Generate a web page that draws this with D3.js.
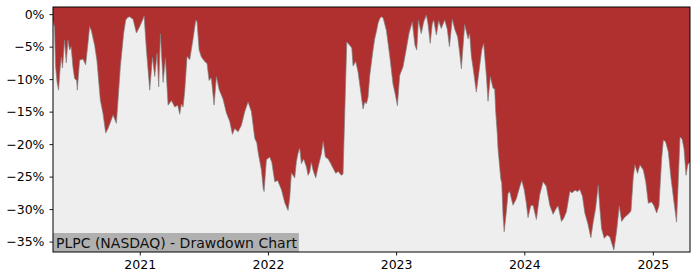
<!DOCTYPE html>
<html>
<head>
<meta charset="utf-8">
<script src="https://cdn.jsdelivr.net/npm/d3@7"></script>
<style>
  body { margin: 0; background: #fff; }
  svg { display: block; font-family: "DejaVu Sans", sans-serif; }
</style>
</head>
<body>
<div id="chart"></div>
<script>
// drawdown of PLPC, % below running peak, sampled off the chart (decimal years)
const years = [
  2020.325, 2020.337, 2020.345, 2020.357, 2020.368, 2020.380, 2020.389, 2020.399, 2020.415, 2020.428,
  2020.441, 2020.454, 2020.466, 2020.480, 2020.493, 2020.509, 2020.514, 2020.532, 2020.558, 2020.579,
  2020.597, 2020.610, 2020.623, 2020.649, 2020.667, 2020.680, 2020.693, 2020.714, 2020.735, 2020.753,
  2020.774, 2020.792, 2020.818, 2020.831, 2020.849, 2020.875, 2020.891, 2020.906, 2020.922, 2020.948,
  2020.974, 2021.000, 2021.026, 2021.034, 2021.052, 2021.078, 2021.099, 2021.117, 2021.135, 2021.148,
  2021.161, 2021.182, 2021.200, 2021.221, 2021.247, 2021.273, 2021.296, 2021.312, 2021.325, 2021.338,
  2021.351, 2021.369, 2021.390, 2021.416, 2021.437, 2021.447, 2021.463, 2021.481, 2021.507, 2021.525,
  2021.541, 2021.558, 2021.580, 2021.598, 2021.619, 2021.650, 2021.676, 2021.702, 2021.723, 2021.741,
  2021.767, 2021.793, 2021.819, 2021.845, 2021.871, 2021.897, 2021.913, 2021.923, 2021.949, 2021.963,
  2021.970, 2021.988, 2022.014, 2022.030, 2022.053, 2022.076, 2022.105, 2022.131, 2022.157, 2022.170,
  2022.183, 2022.209, 2022.222, 2022.235, 2022.248, 2022.261, 2022.279, 2022.300, 2022.313, 2022.326,
  2022.338, 2022.352, 2022.373, 2022.392, 2022.417, 2022.431, 2022.448, 2022.470, 2022.490, 2022.508,
  2022.529, 2022.548, 2022.573, 2022.586, 2022.599, 2022.615, 2022.638, 2022.654, 2022.664, 2022.685,
  2022.703, 2022.721, 2022.742, 2022.755, 2022.768, 2022.781, 2022.794, 2022.820, 2022.833, 2022.846,
  2022.859, 2022.872, 2022.885, 2022.899, 2022.924, 2022.950, 2022.976, 2022.993, 2023.010, 2023.028,
  2023.054, 2023.080, 2023.101, 2023.126, 2023.147, 2023.161, 2023.174, 2023.196, 2023.215, 2023.236,
  2023.249, 2023.266, 2023.282, 2023.293, 2023.314, 2023.332, 2023.352, 2023.379, 2023.399, 2023.416,
  2023.438, 2023.457, 2023.480, 2023.496, 2023.509, 2023.535, 2023.561, 2023.574, 2023.587, 2023.600,
  2023.626, 2023.652, 2023.668, 2023.683, 2023.704, 2023.717, 2023.735, 2023.756, 2023.769, 2023.777,
  2023.789, 2023.795, 2023.816, 2023.824, 2023.834, 2023.843, 2023.860, 2023.873, 2023.886, 2023.898,
  2023.912, 2023.938, 2023.964, 2023.980, 2023.999, 2024.015, 2024.029, 2024.050, 2024.068, 2024.094,
  2024.120, 2024.146, 2024.171, 2024.198, 2024.224, 2024.245, 2024.263, 2024.289, 2024.307, 2024.328,
  2024.354, 2024.374, 2024.393, 2024.416, 2024.432, 2024.452, 2024.471, 2024.494, 2024.518, 2024.536,
  2024.555, 2024.575, 2024.588, 2024.601, 2024.622, 2024.645, 2024.666, 2024.684, 2024.697, 2024.718,
  2024.739, 2024.757, 2024.783, 2024.809, 2024.830, 2024.848, 2024.861, 2024.881, 2024.900, 2024.926,
  2024.945, 2024.965, 2024.991, 2025.009, 2025.030, 2025.048, 2025.069, 2025.082, 2025.099, 2025.121,
  2025.142, 2025.165, 2025.185, 2025.196, 2025.212, 2025.228, 2025.243, 2025.259, 2025.272, 2025.290
]
const drawdown = [
  -1.0, -2.0, -8.0, -10.5, -11.7, -8.5, -6.6, -8.3, -4.0, -7.5,
  -4.0, -5.5, -5.0, -8.1, -9.9, -10.2, -11.7, -7.1, -6.9, -7.8,
  -4.5, -1.9, -2.5, -4.8, -7.2, -10.2, -13.2, -15.3, -18.3, -17.6,
  -16.5, -15.5, -16.8, -13.2, -8.1, -2.9, -0.9, -0.5, -0.4, -0.8,
  -2.9, -1.9, -0.7, -0.3, -5.5, -11.7, -6.6, -9.6, -6.0, -11.2,
  -3.0, -10.5, -6.8, -14.0, -13.3, -14.3, -14.0, -15.4, -13.8, -14.3,
  -11.8, -6.5, -7.0, -3.8, -0.9, -1.2, -5.5, -6.6, -7.3, -7.6,
  -10.2, -9.8, -14.0, -9.6, -11.6, -13.1, -15.2, -16.5, -18.5, -17.6,
  -18.1, -17.1, -15.0, -13.5, -15.0, -19.1, -19.8, -21.2, -24.0, -26.8,
  -27.3, -22.4, -22.0, -22.8, -25.8, -25.6, -27.0, -29.0, -30.2, -28.3,
  -24.4, -25.2, -22.7, -21.4, -20.6, -23.0, -22.3, -23.5, -24.8, -24.3,
  -22.8, -24.0, -25.2, -23.5, -21.5, -19.6, -22.0, -22.3, -23.0, -23.7,
  -24.5, -24.2, -24.8, -24.6, -15.5, -4.3, -4.8, -5.2, -8.0, -7.3,
  -8.9, -11.5, -14.6, -13.5, -13.8, -12.8, -9.5, -5.5, -3.8, -2.7,
  -1.4, -0.7, -0.4, -0.6, -2.5, -6.4, -10.8, -12.3, -14.1, -9.4,
  -8.1, -5.3, -2.9, -1.2, -4.8, -5.5, -0.9, -3.0, -1.2, -0.15,
  -1.5, -4.5, -1.5, -0.9, -3.2, -1.0, -2.2, -0.9, -2.3, -5.0,
  -0.8, -2.3, -3.5, -6.0, -8.4, -1.6, -3.8, -3.0, -6.5, -8.2,
  -12.0, -8.0, -5.5, -4.5, -9.4, -13.4, -9.6, -11.4, -11.5, -15.0,
  -18.4, -20.7, -25.3, -26.0, -31.0, -33.5, -30.4, -27.6, -27.3, -28.3,
  -29.4, -28.4, -26.6, -25.6, -27.0, -29.0, -31.3, -29.5, -29.4, -31.6,
  -27.8, -25.8, -26.5, -29.4, -30.8, -30.0, -29.5, -31.9, -31.4, -30.4,
  -27.3, -27.5, -27.1, -27.3, -27.0, -28.0, -30.6, -32.2, -34.4, -32.0,
  -29.9, -26.3, -29.9, -33.0, -34.5, -34.0, -34.3, -35.5, -36.3, -33.4,
  -29.5, -31.9, -31.2, -30.8, -30.3, -25.0, -23.2, -24.5, -23.2, -24.0,
  -25.8, -29.1, -28.9, -29.5, -30.6, -29.5, -22.2, -19.4, -19.6, -21.2,
  -25.3, -28.9, -32.0, -27.0, -18.9, -19.2, -20.7, -24.8, -23.2, -22.7
]
const yTicks = [0, -5, -10, -15, -20, -25, -30, -35]
const xTickYears = [2021, 2022, 2023, 2024, 2025]
const title = "PLPC (NASDAQ) - Drawdown Chart"

const W = 700, H = 280
const MARGIN = { TOP: 7, RIGHT: 10, BOTTOM: 28, LEFT: 53 }
const WIDTH = W - MARGIN.LEFT - MARGIN.RIGHT
const HEIGHT = H - MARGIN.TOP - MARGIN.BOTTOM

// decimal year -> Date
const toDate = t => {
  const yr = Math.floor(t)
  const a = Date.UTC(yr, 0, 1), b = Date.UTC(yr + 1, 0, 1)
  return new Date(a + (t - yr) * (b - a))
}
const data = years.map((t, i) => ({ date: toDate(t), v: drawdown[i] }))

const svg = d3.select("#chart").append("svg")
    .attr("width", W)
    .attr("height", H)
const g = svg.append("g")
    .attr("transform", `translate(${MARGIN.LEFT},${MARGIN.TOP})`)

const x = d3.scaleUtc()
    .domain(d3.extent(data, d => d.date))
    .range([0, WIDTH])
const y = d3.scaleLinear()
    .domain([-36.6, 1.1])
    .range([HEIGHT, 0])

g.append("rect")
    .attr("width", WIDTH)
    .attr("height", HEIGHT)
    .attr("fill", "#eeeeee")

g.append("clipPath").attr("id", "clip")
  .append("rect").attr("width", WIDTH).attr("height", HEIGHT)

const area = d3.area()
    .x(d => x(d.date))
    .y0(y(0) - 20)
    .y1(d => y(d.v))
g.append("path")
    .datum(data)
    .attr("clip-path", "url(#clip)")
    .attr("d", area)
    .attr("fill", "#b03030")

const line = d3.line()
    .x(d => x(d.date))
    .y(d => y(d.v))
g.append("path")
    .datum(data)
    .attr("clip-path", "url(#clip)")
    .attr("d", line)
    .attr("fill", "none")
    .attr("stroke", "#808080")
    .attr("stroke-width", 0.9)
    .attr("stroke-opacity", 0.75)

// axes
const yAxisCall = d3.axisLeft(y)
    .tickValues(yTicks)
    .tickSize(3.5)
    .tickPadding(5)
    .tickFormat(d => (d < 0 ? "\u2212" + Math.abs(d) : d) + "%")
const yAx = g.append("g").call(yAxisCall)

const xAxisCall = d3.axisBottom(x)
    .tickValues(xTickYears.map(yr => new Date(Date.UTC(yr, 0, 1))))
    .tickSize(3.5)
    .tickPadding(5)
    .tickFormat(d3.utcFormat("%Y"))
const xAx = g.append("g")
    .attr("transform", `translate(0,${HEIGHT})`)
    .call(xAxisCall)

for (const ax of [xAx, yAx]) {
  ax.select(".domain").remove()
  ax.selectAll("line").attr("stroke", "#000").attr("stroke-width", 0.9)
  ax.selectAll("text").attr("fill", "#000").attr("font-size", 12.5)
    .attr("font-family", "DejaVu Sans, sans-serif")
}

// title tag in the lower left corner
const tag = g.append("g")
const tagText = tag.append("text")
    .attr("x", 3)
    .attr("y", HEIGHT - 4.5)
    .attr("font-size", 14)
    .attr("fill", "#111")
    .text(title)
const tw = tagText.node().getComputedTextLength()
tag.insert("rect", "text")
    .attr("x", 0)
    .attr("y", HEIGHT - 19)
    .attr("width", tw + 5)
    .attr("height", 19)
    .attr("fill", "#b0b0b0")

g.append("rect")
    .attr("width", WIDTH)
    .attr("height", HEIGHT)
    .attr("fill", "none")
    .attr("stroke", "#000")
    .attr("stroke-width", 1)
</script>
</body>
</html>
